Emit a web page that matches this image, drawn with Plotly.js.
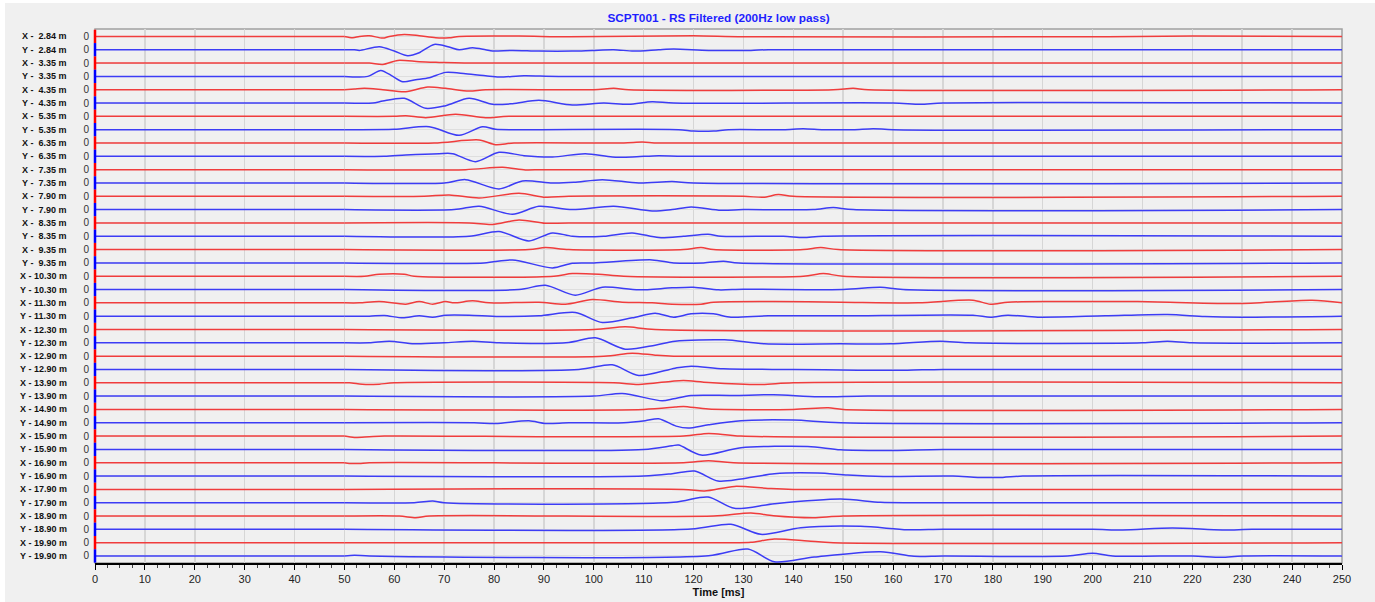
<!DOCTYPE html>
<html>
<head>
<meta charset="utf-8">
<script src="https://cdn.plot.ly/plotly-3.0.1.min.js"></script>
<style>
  html, body { margin: 0; padding: 0; background: #ffffff; }
  #chart { position: absolute; left: 5px; top: 3px; width: 1370px; height: 599px; }
</style>
</head>
<body>
<div id="chart"></div>
<script>
// ---------------- DATA ----------------
const title = 'SCPT001 - RS Filtered (200Hz low pass)';
const xTitle = 'Time [ms]';
const depths = ['2.84','3.35','4.35','5.35','6.35','7.35','7.90','8.35','9.35','10.30',
                '11.30','12.30','12.90','13.90','14.90','15.90','16.90','17.90','18.90','19.90'];
const components = ['X', 'Y'];
const timeStart = 0, timeEnd = 250, recordStart = 50;
const timeTicks = [0,10,20,30,40,50,60,70,80,90,100,110,120,130,140,150,160,170,180,190,200,210,220,230,240,250];

// Trace samples: [time ms, amplitude (arbitrary units)]
const X_284 = [[51.7,-4],[53,0],[55,2],[57.7,-5],[59,0],[62,6],[65,2],[68.3,-4],[71,-4],[73,0],[85,1],[95,-1],[120,2],[130,-1],[200,-1],[220,1]];
const Y_284 = [[52,0],[53,-2],[57,9],[60,-4],[62.7,-18],[65,-9],[68,16],[71,8],[73,0],[75.7,6],[78.3,0],[79.7,-4],[83.7,-2],[89,-4],[95.7,-4],[99.7,-2],[104,0],[108,-4],[113,0],[116,2],[123,-2],[131.5,-2],[135,0]];
const X_335 = [[55,0],[57.7,-4],[60.7,8],[65,4],[69,2],[74,0]];
const Y_335 = [[54.7,0],[57.3,18],[59.7,0],[61.7,-16],[64.3,-10],[67,-4],[70.3,12],[74.3,8],[78.3,2],[81,-2],[86,2],[93,0]];
const X_435 = [[52,2],[54,4],[57.7,0],[62.3,-6],[66.7,8],[70.3,4],[75,-4],[78.3,0],[100,0],[104,4],[107,0],[148,0],[152,4],[155,0]];
const Y_435 = [[55.7,0],[57.7,6],[62,14],[66.3,-16],[70.3,-8],[75,14],[79.7,-4],[83.7,-2],[89,8],[95.7,-6],[102,0],[107,-4],[111.7,4],[116,0],[160,0],[165.5,-4],[170,0]];
const X_535 = [[60,0],[62.3,2],[66.3,-4],[72.3,6],[78.3,-4],[83,0]];
const Y_535 = [[60,1],[67,9],[73,-17],[77.7,9],[80.3,1],[86,0],[117,0],[120,-4],[124,-4],[127,0],[138,0],[142,3],[146,0],[152,0],[156,3],[160,0]];
const X_635 = [[68,0],[77,9],[80.3,-5],[84,0],[106,0],[109.7,3],[113,0]];
const Y_635 = [[58,0],[62.3,4],[69,8],[71.7,8],[76.3,-16],[81,12],[86,2],[91.7,-2],[98.3,8],[103.7,-2],[107.7,-2],[113,2],[118,0]];
const X_735 = [[74.3,0],[81.7,7],[86.3,-1],[90,0]];
const Y_735 = [[70,0],[74.3,10],[81,-18],[85.7,6],[91.7,0],[96,2],[101.7,10],[109,0],[115.7,4],[120,0]];
const X_790 = [[66,0],[71,4],[77,-5],[85,9],[90.3,-3],[95,0],[130,0],[134,-3],[137,5],[140,0]];
const Y_790 = [[72,0],[77,10],[83.7,-14],[89,10],[95.7,0],[104,10],[111.7,-4],[115.7,0],[119.5,8],[125.5,-2],[130,0],[144,0],[148,6],[152,0]];
const X_835 = [[75,0],[79.7,-5],[85,9],[90.3,-1],[95,0]];
const Y_835 = [[75,0],[81,14],[87,-14],[91.7,10],[95.7,0],[102,0],[107.7,10],[113,-4],[118,0],[122.9,6],[125.5,0],[138,0],[142,-4],[146,0]];
const X_935 = [[87,0],[90.3,6],[95,0],[118,0],[121.5,6],[124,0],[142,0],[145.5,6],[149,0]];
const Y_935 = [[78,0],[83.7,9],[91.7,-15],[95.7,-1],[100,0],[111.7,9],[116,0],[122,0],[126,5],[129,0]];
const X_1030 = [[54,0],[57,6],[62,6],[64,0],[92,0],[95.7,8],[101,6],[106,0],[142,0],[146,8],[150,0]];
const Y_1030 = [[85,0],[90.3,13],[96.3,-17],[101.7,7],[109,-1],[115.7,5],[120,7],[125,-1],[130,1],[150,0],[157.5,7],[162,0]];
const X_1130 = [[53,0],[57,4],[62.3,-4],[65,4],[67.7,-4],[70.3,4],[72,0],[75.7,6],[79,0],[89,2],[94.3,-4],[99.7,10],[105.7,2],[111.7,0],[115.7,-4],[121.5,-4],[124,2],[136,4],[149.5,2],[165,0],[176,8],[179.5,-4],[183,2],[192.5,4],[209,4],[229,-2],[244,8]];
const Y_1130 = [[55,0],[58,2],[61.7,-5],[65,1],[67.7,-3],[70.3,3],[75,3],[81,-1],[89,1],[96.3,11],[101.7,-19],[107.7,-5],[112.3,9],[116,-3],[119.5,7],[124,7],[127.5,-3],[135,1],[149.5,1],[176,3],[179.5,-3],[183,3],[189,-3],[202.5,1],[215,5],[222.5,-1],[229.8,-3]];
const X_1230 = [[100,0],[106.3,8],[112.3,0]];
const Y_1230 = [[55,0],[59,5],[64,-3],[70,0],[75.7,5],[81,0],[95,1],[100.3,15],[106.3,-19],[112.3,-7],[116.3,5],[126.2,9],[134.2,-3],[149.5,-3],[159.5,-3],[169.5,5],[175,0],[210,0],[215,5],[220,0]];
const X_1290 = [[102,0],[107.7,9],[112.3,3],[116,0]];
const Y_1290 = [[97,0],[103.7,14],[109,-18],[116.3,4],[119.5,10],[126,2],[140,0],[152.9,-2],[162.9,-2],[170,0]];
const X_1390 = [[51,0],[54.3,-5],[57,-4],[60,0],[104,0],[109,-5],[115.7,5],[118,7],[123,1],[133.5,-5],[140,0]];
const Y_1390 = [[100,0],[105.7,8],[113.7,-14],[116,-8],[119.5,2],[128,2],[136,4],[145,-2],[155,0]];
const X_1490 = [[110,0],[116.3,7],[118,9],[123,1],[140,0],[147,5],[150,0]];
const Y_1490 = [[76,0],[80.3,-2],[87,6],[90.3,-2],[95,0],[106,0],[110.3,6],[113,12],[116.5,-10],[118.9,-16],[123,-6],[129.5,6],[140,8],[149.5,0]];
const X_1590 = [[52,-4],[55,-2],[58,0],[118,0],[123,8],[129.5,0]];
const Y_1590 = [[110,0],[115.7,11],[117,13],[121.5,-17],[129.5,5],[142.9,9],[149.5,-1],[160,-3],[170,0]];
const X_1690 = [[51,-2],[53,-2],[55,0],[118,0],[123,6],[128,0]];
const Y_1690 = [[110,0],[115.7,7],[120.2,15],[124.9,-15],[129.5,-9],[136.2,7],[144.9,9],[150.9,3],[158,-1],[172,0],[177,-4],[182,-4],[186,0]];
const X_1790 = [[118,0],[122.2,-5],[128.2,9],[134.9,3],[140,0]];
const Y_1790 = [[64,0],[67.7,5],[70,0],[116,1],[122.9,17],[128.2,-17],[136.2,-3],[149.5,11],[157.5,1],[165,0]];
const X_1890 = [[61,0],[64.3,-5],[67,0],[124,0],[131.5,9],[136,1],[144,-5],[150,0]];
const Y_1890 = [[119.5,1],[127.5,15],[133.5,-15],[141.5,5],[153.5,9],[162.9,-1],[170,0],[200,0],[206,-2],[216,4],[226,-2],[232,0]];
const X_1990 = [[128,0],[131.5,1],[136.2,11],[142.9,5],[148,0]];
const Y_1990 = [[52,2],[55,0],[123,1],[130.9,21],[136.2,-17],[144.2,-3],[157.5,13],[164.2,-1],[170,0],[195,0],[200,8],[204,0],[220,0],[225.8,-4],[230,0]];

const traceSamples = [
  X_284, Y_284, X_335, Y_335, X_435, Y_435, X_535, Y_535, X_635, Y_635,
  X_735, Y_735, X_790, Y_790, X_835, Y_835, X_935, Y_935, X_1030, Y_1030,
  X_1130, Y_1130, X_1230, Y_1230, X_1290, Y_1290, X_1390, Y_1390, X_1490, Y_1490,
  X_1590, Y_1590, X_1690, Y_1690, X_1790, Y_1790, X_1890, Y_1890, X_1990, Y_1990
];

// ---------------- STYLE ----------------
const colX = '#f03c3c', colY = '#3c3cf5';
const gain = 1 / 40;           // amplitude units per trace spacing
const FONT = 'Liberation Sans, Arial, sans-serif';
const NB = '\u00a0';

const nTr = traceSamples.length;
const traces = [];
const shapes = [];
const annotations = [];
const tickvals = [], ticktext = [];

for (let i = 0; i < nTr; i++) {
  const comp = components[i % 2];
  const depth = depths[Math.floor(i / 2)];
  const col = comp === 'X' ? colX : colY;
  const pts = traceSamples[i];

  // pre-trigger part: zero signal before recording starts
  traces.push({
    type: 'scatter', mode: 'lines', x: [timeStart, recordStart], y: [-i, -i],
    line: { color: col, width: 1.5, shape: 'linear' },
    hoverinfo: 'skip', showlegend: false
  });

  // recorded part
  const xs = [], ys = [];
  if (pts[0][0] > recordStart) { xs.push(recordStart); ys.push(-i); }
  pts.forEach(p => { xs.push(p[0]); ys.push(-i + p[1] * gain); });
  if (pts[pts.length - 1][0] < timeEnd) { xs.push(timeEnd); ys.push(-i); }
  traces.push({
    type: 'scatter', mode: 'lines', x: xs, y: ys,
    line: { color: col, width: 1.5, shape: 'spline', smoothing: 0.8, simplify: false },
    hoverinfo: 'skip', showlegend: false
  });

  tickvals.push(-i); ticktext.push('0');
  shapes.push({
    type: 'line', xref: 'paper', yref: 'y', x0: 0, x1: 0, y0: -i + 0.5, y1: -i - 0.5,
    line: { color: comp === 'X' ? '#ff0000' : '#0000ff', width: 2.5 }, layer: 'above'
  });
  const pad = depth.length < 5 ? NB + NB : NB;
  annotations.push({
    xref: 'paper', yref: 'y', x: -0.0212, y: -i, xanchor: 'right', yanchor: 'middle',
    text: comp + NB + '-' + pad + depth + NB + 'm', showarrow: false,
    font: { family: FONT, size: 9, color: '#111', weight: 'bold' }
  });
}

// frame (top/right gray)
shapes.push({
  type: 'rect', xref: 'paper', yref: 'paper', x0: 0, x1: 1, y0: 0, y1: 1,
  line: { color: '#a0a0a0', width: 1.5 }, layer: 'below'
});

const layout = {
  width: 1370, height: 599,
  paper_bgcolor: '#f0f0f0', plot_bgcolor: '#f0f0f0',
  margin: { l: 90, r: 33, t: 26, b: 39 },
  title: {
    text: '<b>' + title + '</b>', x: 0.5, xref: 'paper', y: 0.975, yref: 'container',
    xanchor: 'center', yanchor: 'middle',
    font: { family: FONT, size: 11.8, color: '#1f1fff' }
  },
  xaxis: {
    range: [timeStart, timeEnd], tickvals: timeTicks, ticks: 'outside', ticklen: 5,
    tickcolor: '#000', tickwidth: 1, showline: true, linecolor: '#000', linewidth: 2,
    showgrid: true, gridcolor: '#d6d6d6', gridwidth: 1.5, zeroline: false,
    minor: { dtick: 2.5, tick0: 0, ticks: 'outside', ticklen: 3, tickcolor: '#444', showgrid: false },
    tickfont: { family: FONT, size: 11, color: '#222' },
    title: { text: '<b>' + xTitle + '</b>', standoff: 4, font: { family: FONT, size: 11, color: '#111' } },
    fixedrange: true
  },
  yaxis: {
    range: [-(nTr - 1) - 0.526, 0.556], tickvals: tickvals, ticktext: ticktext,
    ticks: '', showline: false, zeroline: false, showgrid: true,
    gridcolor: '#dedede', gridwidth: 1, ticklabelstandoff: 5,
    tickfont: { family: FONT, size: 10, color: '#333' }, fixedrange: true
  },
  shapes: shapes,
  annotations: annotations,
  showlegend: false
};

Plotly.newPlot('chart', traces, layout, { staticPlot: true, displayModeBar: false });
</script>
</body>
</html>
